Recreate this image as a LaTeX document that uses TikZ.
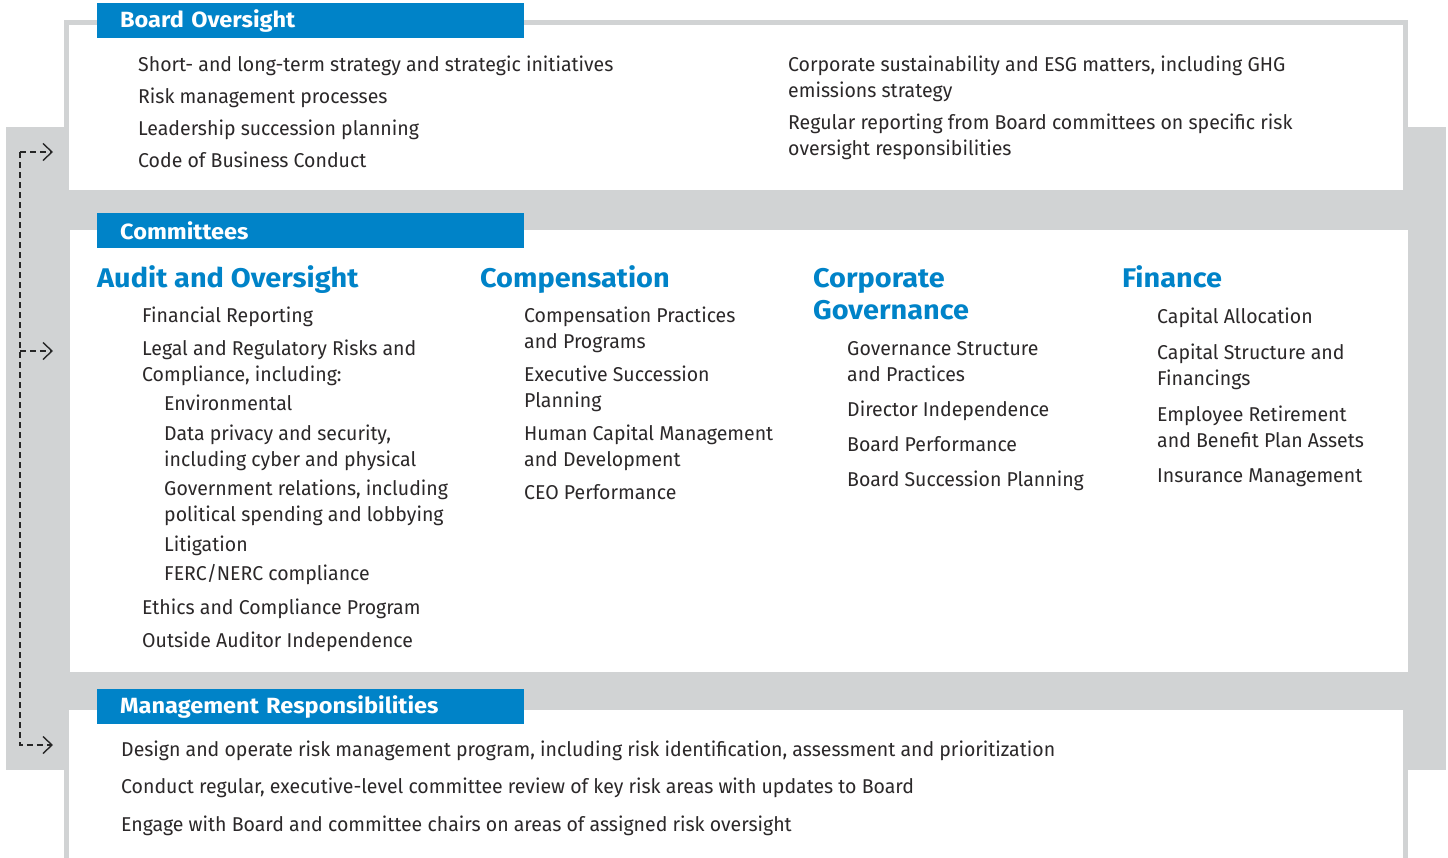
\documentclass[tikz,border=0pt]{standalone}
\usepackage{fontspec}
\setmainfont{Fira Sans}[FakeStretch=0.975]
\newfontfamily\headfont{Fira Sans}[FakeStretch=1.07]
\usetikzlibrary{arrows.meta}

\definecolor{bandgray}{HTML}{D1D3D4}
\definecolor{headblue}{HTML}{0083C8}
\definecolor{bodytext}{HTML}{2B2829}

\tikzset{
  itemtext/.style={anchor=base west, align=left, inner sep=0pt, text=bodytext,
    font=\fontsize{20}{26}\selectfont},
  headtext/.style={anchor=base west, align=left, inner sep=0pt, text=headblue,
    font=\headfont\fontsize{27}{32}\selectfont\bfseries},
  titlebar/.style={anchor=north west, fill=headblue, text=white, minimum height=35pt,
    text width=381pt, inner xsep=23pt, inner ysep=0pt, align=left,
    font=\headfont\fontsize{22}{26}\selectfont\bfseries},
  boxframe/.style={draw=bandgray, line width=5pt, fill=white},
  flowline/.style={dash pattern=on 6pt off 4pt, line width=1.4pt, draw=black!85,
    -{Straight Barb[length=9pt,width=17pt,line width=1.4pt]}}
}

\begin{document}
\begin{tikzpicture}[x=1pt,y=-1pt]
  \useasboundingbox (0,0) rectangle (1448,857);
  \clip (0,0) rectangle (1448,857);

  % gray band and the three boxes
  \fill[bandgray] (6,127) rectangle (1446,770);
  \draw[boxframe] (66.5,22.5) rectangle (1405.5,192);
  \fill[white] (70,230) rectangle (1408,672);
  \draw[boxframe] (66.5,707.5) rectangle (1405.5,880);

  % title bars
  \node[titlebar] (boardbar) at (97,3) {Board Oversight};
  \node[titlebar] (combar) at (97,213) {Committees};
  \node[titlebar] (mgmtbar) at (97,689) {Management Responsibilities};

  % board oversight (base = last line)
  \node[itemtext] (b1) at (138,71) {Short- and long-term strategy and strategic initiatives};
  \node[itemtext] (b2) at (138,103) {Risk management processes};
  \node[itemtext] (b3) at (138,135) {Leadership succession planning};
  \node[itemtext] (b4) at (138,167) {Code of Business Conduct};
  \node[itemtext] (b5) at (788,97) {Corporate sustainability and ESG matters, including GHG\\emissions strategy};
  \node[itemtext] (b6) at (788,155) {Regular reporting from Board committees on specific risk\\oversight responsibilities};

  % audit and oversight
  \node[headtext] (audit) at (97,287) {Audit and Oversight};
  \node[itemtext] (a1) at (142,322) {Financial Reporting};
  \node[itemtext] (a2) at (142,381) {Legal and Regulatory Risks and\\Compliance, including:};
  \node[itemtext] (a3) at (164,410) {Environmental};
  \node[itemtext] (a4) at (164,466) {Data privacy and security,\\including cyber and physical};
  \node[itemtext] (a5) at (164,521) {Government relations, including\\political spending and lobbying};
  \node[itemtext] (a6) at (164,551) {Litigation};
  \node[itemtext] (a7) at (164,580) {FERC/NERC compliance};
  \node[itemtext] (a8) at (142,614) {Ethics and Compliance Program};
  \node[itemtext] (a9) at (142,647) {Outside Auditor Independence};

  % compensation
  \node[headtext] (comp) at (480,287) {Compensation};
  \node[itemtext] (c1) at (524,348) {Compensation Practices\\and Programs};
  \node[itemtext] (c2) at (524,407) {Executive Succession\\Planning};
  \node[itemtext] (c3) at (524,466) {Human Capital Management\\and Development};
  \node[itemtext] (c4) at (524,499) {CEO Performance};

  % corporate governance
  \node[headtext] (gov) at (813,319) {Corporate\\Governance};
  \node[itemtext] (g1) at (847,381) {Governance Structure\\and Practices};
  \node[itemtext] (g2) at (847,416) {Director Independence};
  \node[itemtext] (g3) at (847,451) {Board Performance};
  \node[itemtext] (g4) at (847,486) {Board Succession Planning};

  % finance
  \node[headtext] (fin) at (1122,287) {Finance};
  \node[itemtext] (f1) at (1157,323) {Capital Allocation};
  \node[itemtext] (f2) at (1157,385) {Capital Structure and\\Financings};
  \node[itemtext] (f3) at (1157,447) {Employee Retirement\\and Benefit Plan Assets};
  \node[itemtext] (f4) at (1157,482) {Insurance Management};

  % management responsibilities
  \node[itemtext] (m1) at (121,756) {Design and operate risk management program, including risk identification, assessment and prioritization};
  \node[itemtext] (m2) at (121,793) {Conduct regular, executive-level committee review of key risk areas with updates to Board};
  \node[itemtext] (m3) at (121,831) {Engage with Board and committee chairs on areas of assigned risk oversight};

  % dashed feedback rail
  \coordinate (railtop) at (20,152);
  \coordinate (railmid) at (20,351);
  \coordinate (raillow) at (20,745);
  \coordinate (intop) at (53,152);
  \coordinate (inmid) at (53,351);
  \coordinate (inlow) at (53,745);
  \draw[flowline] (railtop) -- (intop);
  \draw[flowline] (railtop) -- (raillow) -- (inlow);
  \draw[flowline] (railmid) -- (inmid);
\end{tikzpicture}
\end{document}
